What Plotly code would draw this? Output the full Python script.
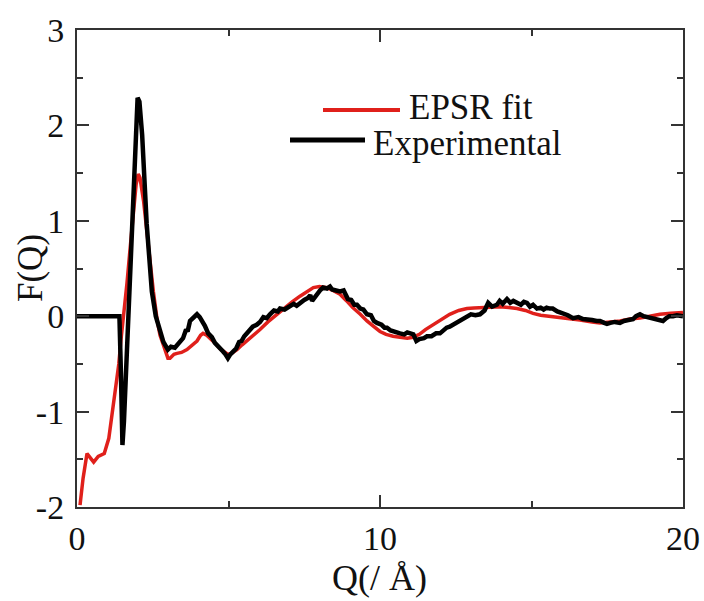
import plotly.graph_objects as go

# ---- data ----
exp_q = [0, 1.40, 1.45, 1.50, 1.55, 1.65, 1.75, 1.85, 1.95, 2.00, 2.06, 2.15, 2.30, 2.40, 2.47,
         2.60, 2.74, 2.85, 3.00, 3.10, 3.23, 3.35, 3.50, 3.60, 3.65, 3.73, 3.85, 3.96, 4.05, 4.13,
         4.22, 4.33, 4.45, 4.55, 4.62, 4.72, 4.82, 4.90, 4.98, 5.06, 5.15, 5.25, 5.35, 5.43, 5.52,
         5.60, 5.70, 5.80, 5.93, 6.04, 6.15, 6.26, 6.37, 6.50, 6.63, 6.70, 6.85, 7.03, 7.15, 7.25,
         7.36, 7.50, 7.62, 7.70, 7.76, 7.85, 7.92, 8.02, 8.12, 8.25, 8.35, 8.42, 8.55, 8.68, 8.80,
         8.94, 9.05, 9.15, 9.24, 9.35, 9.45, 9.57, 9.70, 9.80, 9.90, 10.05, 10.15, 10.23, 10.35,
         10.50, 10.66, 10.80, 10.90, 11.00, 11.10, 11.20, 11.30, 11.45, 11.55, 11.70, 11.85, 11.98,
         12.10, 12.20, 12.30, 12.40, 12.55, 12.70, 12.87, 13.00, 13.15, 13.30, 13.45, 13.57, 13.70,
         13.86, 13.95, 14.05, 14.19, 14.30, 14.40, 14.52, 14.65, 14.75, 14.85, 14.95, 15.05, 15.18,
         15.30, 15.40, 15.50, 15.60, 15.70, 15.85, 16.04, 16.20, 16.37, 16.55, 16.70, 16.83, 17.00,
         17.15, 17.26, 17.40, 17.49, 17.60, 17.75, 17.92, 18.05, 18.20, 18.35, 18.45, 18.58, 18.70,
         18.85, 19.00, 19.15, 19.34, 19.45, 19.55, 19.67, 19.80, 20.00]
exp_f = [0, 0, -0.6, -1.35, -1.1, -0.3, 0.5, 1.3, 2.05, 2.29, 2.25, 1.9, 0.97, 0.5, 0.26,
         0.0, -0.16, -0.27, -0.35, -0.32, -0.33, -0.28, -0.23, -0.14, -0.16, -0.05, -0.02, 0.02, -0.01, -0.05,
         -0.10, -0.18, -0.22, -0.28, -0.30, -0.33, -0.37, -0.40, -0.44, -0.40, -0.37, -0.34, -0.27, -0.26, -0.21,
         -0.18, -0.16, -0.11, -0.09, -0.06, -0.01, -0.02, 0.02, 0.06, 0.05, 0.08, 0.07, 0.11, 0.13, 0.11,
         0.14, 0.17, 0.19, 0.22, 0.16, 0.20, 0.24, 0.27, 0.30, 0.29, 0.31, 0.28, 0.27, 0.26, 0.27,
         0.18, 0.17, 0.12, 0.12, 0.08, 0.07, 0.02, 0.01, -0.05, -0.07, -0.09, -0.12, -0.12, -0.15,
         -0.17, -0.18, -0.19, -0.17, -0.18, -0.19, -0.26, -0.24, -0.23, -0.21, -0.21, -0.18, -0.18,
         -0.14, -0.12, -0.11, -0.09, -0.06, -0.03, 0.0, 0.02, 0.01, 0.02, 0.06, 0.14, 0.10,
         0.12, 0.16, 0.13, 0.18, 0.14, 0.16, 0.14, 0.12, 0.15, 0.14, 0.10, 0.12, 0.08,
         0.09, 0.07, 0.09, 0.08, 0.08, 0.05, 0.03, 0.01, -0.02, -0.01, -0.03, -0.03, -0.04,
         -0.05, -0.05, -0.07, -0.08, -0.07, -0.06, -0.07, -0.05, -0.04, -0.03, 0.0, 0.02, 0.0,
         -0.01, -0.02, -0.03, -0.05, -0.02, 0.0, 0.0, 0.01, 0.0]

fit_q = [0.10, 0.20, 0.33, 0.45, 0.55, 0.70, 0.90, 1.05, 1.15, 1.22, 1.30, 1.38, 1.45, 1.55, 1.65,
         1.75, 1.85, 1.95, 2.02, 2.08, 2.20, 2.30, 2.40, 2.52, 2.65, 2.74, 2.85, 3.00, 3.07, 3.20,
         3.30, 3.45, 3.63, 3.80, 3.96, 4.08, 4.16, 4.28, 4.39, 4.55, 4.72, 4.85, 4.98, 5.10, 5.28,
         5.45, 5.60, 5.80, 6.04, 6.30, 6.63, 6.90, 7.10, 7.36, 7.60, 7.80, 8.00, 8.25, 8.45, 8.68,
         8.90, 9.10, 9.35, 9.57, 9.80, 10.00, 10.20, 10.43, 10.66, 10.90, 11.10, 11.30, 11.50, 11.75,
         12.00, 12.30, 12.60, 12.87, 13.10, 13.40, 13.70, 13.96, 14.25, 14.52, 14.80, 15.05, 15.30,
         15.60, 15.94, 16.30, 16.60, 17.00, 17.26, 17.60, 17.92, 18.25, 18.58, 18.90, 19.24, 19.60, 20.00]
fit_f = [-1.98, -1.70, -1.44, -1.49, -1.53, -1.47, -1.44, -1.28, -1.05, -0.86, -0.70, -0.50, -0.25, 0.02, 0.35,
         0.70, 1.05, 1.38, 1.49, 1.45, 1.20, 0.89, 0.55, 0.26, -0.05, -0.20, -0.30, -0.44, -0.44, -0.40,
         -0.39, -0.38, -0.35, -0.30, -0.26, -0.20, -0.18, -0.20, -0.23, -0.28, -0.34, -0.37, -0.40, -0.39, -0.35,
         -0.30, -0.26, -0.20, -0.14, -0.06, 0.03, 0.10, 0.15, 0.21, 0.26, 0.30, 0.31, 0.30, 0.27, 0.23,
         0.16, 0.09, 0.02, -0.05, -0.11, -0.16, -0.19, -0.21, -0.22, -0.23, -0.22, -0.19, -0.14, -0.09,
         -0.03, 0.02, 0.06, 0.08, 0.085, 0.09, 0.10, 0.10, 0.09, 0.08, 0.06, 0.03, 0.01,
         0.0, -0.02, -0.03, -0.04, -0.06, -0.07, -0.06, -0.05, -0.03, -0.02, 0.0, 0.02, 0.03, 0.04]

x_tickvals = [0, 10, 20]
x_ticktext = ["0", "10", "20"]
y_tickvals = [-2, -1, 0, 1, 2, 3]
y_ticktext = ["-2", "-1", "0", "1", "2", "3"]
series_names = ["EPSR fit", "Experimental"]

FONT = "Liberation Serif"

fig = go.Figure()
fig.add_trace(go.Scatter(x=fit_q, y=fit_f, mode="lines", name=series_names[0],
                         line=dict(color="#e0201b", width=3.5), showlegend=False))
fig.add_trace(go.Scatter(x=exp_q, y=exp_f, mode="lines", name=series_names[1],
                         line=dict(color="#000000", width=4.5), showlegend=False))

axis_common = dict(showline=True, linecolor="#333333", linewidth=2, mirror="allticks",
                   ticks="inside", ticklen=12, tickwidth=2, tickcolor="#333333",
                   showgrid=False, zeroline=False, automargin=False,
                   ticklabeloverflow="allow",
                   tickfont=dict(family=FONT, size=34, color="#111111"))

fig.update_xaxes(range=[0, 20], tickvals=x_tickvals, ticktext=x_ticktext, **axis_common,
                 minor=dict(dtick=5, ticks="inside", ticklen=6, tickwidth=2, tickcolor="#333333"))
fig.update_yaxes(range=[-2, 3], tickvals=y_tickvals, ticktext=y_ticktext, **axis_common,
                 ticklabelstandoff=4,
                 minor=dict(dtick=0.5, ticks="inside", ticklen=6, tickwidth=2, tickcolor="#333333"))

# plot area in page pixels: x 77..683, y 30..507
pw, ph = 606.0, 477.0
def px(x):
    return (x - 77) / pw
def py(y):
    return (507 - y) / ph

# manual legend (paper coordinates)
fig.add_shape(type="line", xref="paper", yref="paper", x0=px(323), x1=px(400), y0=py(110), y1=py(110),
              line=dict(color="#e0201b", width=4))
fig.add_shape(type="line", xref="paper", yref="paper", x0=px(290), x1=px(365), y0=py(140), y1=py(140),
              line=dict(color="#000000", width=5))
fig.add_annotation(xref="paper", yref="paper", x=px(407), y=py(108), text=series_names[0],
                   showarrow=False, xanchor="left", yanchor="middle",
                   font=dict(family=FONT, size=35, color="#111111"))
fig.add_annotation(xref="paper", yref="paper", x=px(371), y=py(143), text=series_names[1],
                   showarrow=False, xanchor="left", yanchor="middle",
                   font=dict(family=FONT, size=35, color="#111111"))

# axis titles
fig.add_annotation(xref="paper", yref="paper", x=px(379), y=py(578), text="Q(/ Å)",
                   showarrow=False, xanchor="center", yanchor="middle",
                   font=dict(family=FONT, size=36, color="#111111"))
fig.add_annotation(xref="paper", yref="paper", x=px(30), y=py(268), text="F(Q)", textangle=-90,
                   showarrow=False, xanchor="center", yanchor="middle",
                   font=dict(family=FONT, size=35, color="#111111"))

fig.update_layout(width=704, height=601,
                  margin=dict(l=77, r=21, t=30, b=94),
                  paper_bgcolor="white", plot_bgcolor="white", showlegend=False)

fig.write_html("out.html", config={"displayModeBar": False},
               post_script="document.body.style.margin='0';document.body.style.overflow='hidden';")
